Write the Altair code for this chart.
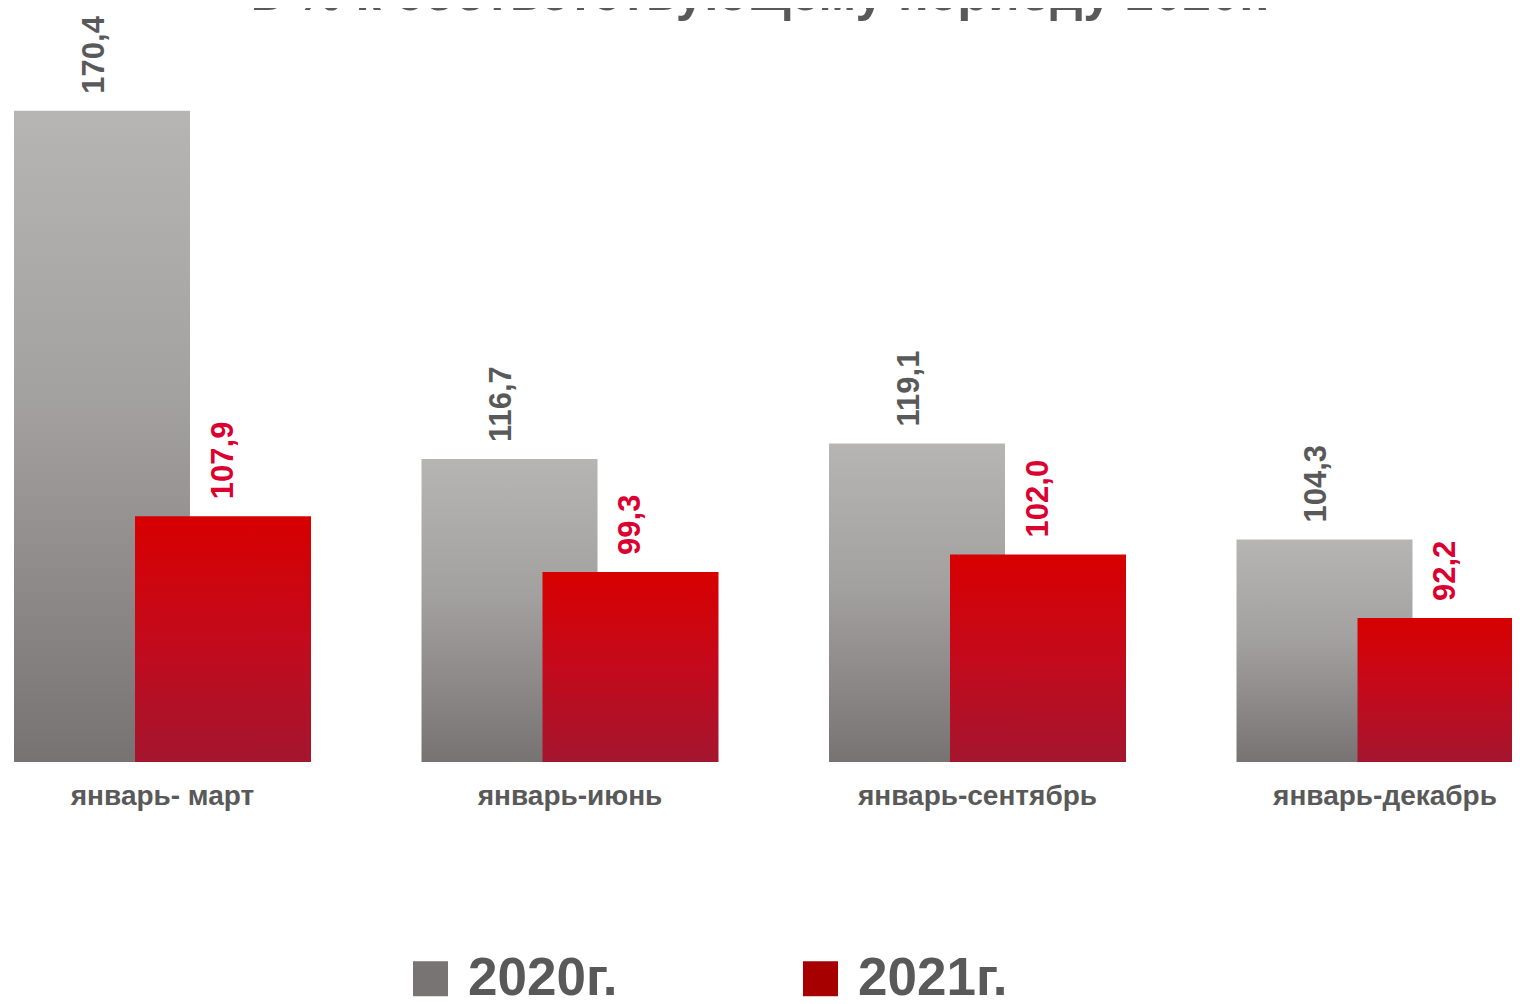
import altair as alt
import pandas as pd

categories = ["январь- март", "январь-июнь", "январь-сентябрь", "январь-декабрь"]
series = ["2020г.", "2021г."]
values_2020 = [170.4, 116.7, 119.1, 104.3]
values_2021 = [107.9, 99.3, 102.0, 92.2]

rows = []
for c, a, b in zip(categories, values_2020, values_2021):
    rows.append({"cat": c, "series": series[0], "value": a, "label": f"{a:.1f}".replace(".", ",")})
    rows.append({"cat": c, "series": series[1], "value": b, "label": f"{b:.1f}".replace(".", ",")})
df = pd.DataFrame(rows)

FONT = "Liberation Sans"
GRAY_TEXT = "#595959"
RED_TEXT = "#dc0030"

grad_gray = alt.LinearGradient(
    gradient="linear",
    stops=[alt.GradientStop(color="#b6b5b4", offset=0),
           alt.GradientStop(color="#a3a1a0", offset=0.45),
           alt.GradientStop(color="#777372", offset=1)],
    x1=0, x2=0, y1=0, y2=1,
)
grad_red = alt.LinearGradient(
    gradient="linear",
    stops=[alt.GradientStop(color="#d70000", offset=0),
           alt.GradientStop(color="#c40a1c", offset=0.5),
           alt.GradientStop(color="#a4162f", offset=1)],
    x1=0, x2=0, y1=0, y2=1,
)

xscale = alt.Scale(domain=categories, range=[-49.25, 1580.75], paddingInner=0, paddingOuter=0)
yscale = alt.Scale(domain=[70, 185], nice=False, zero=False)

base = alt.Chart(df)

x_enc = alt.X("cat:N", scale=xscale, sort=categories,
              axis=alt.Axis(title=None, labelAngle=0, domain=False, ticks=False, grid=False,
                            labelFont=FONT, labelFontSize=28, labelFontWeight="bold",
                            labelColor=GRAY_TEXT, labelPadding=20, labelLimit=400))
y_enc = alt.Y("value:Q", scale=yscale, axis=None)

bars_2020 = base.transform_filter(alt.datum.series == series[0]).mark_bar(
    width=176, xOffset=-60.5, color=grad_gray
).encode(x=x_enc, y=y_enc, y2=alt.datum(70))

bars_2021 = base.transform_filter(alt.datum.series == series[1]).mark_bar(
    width=176, xOffset=60.5, color=grad_red
).encode(x=x_enc, y=y_enc, y2=alt.datum(70))

text_2020 = base.transform_filter(alt.datum.series == series[0]).mark_text(
    angle=270, align="left", baseline="middle", dx=17, xOffset=-68,
    font=FONT, fontWeight="bold", fontSize=31, color=GRAY_TEXT
).encode(x=x_enc, y=y_enc, text="label:N")

text_2021 = base.transform_filter(alt.datum.series == series[1]).mark_text(
    angle=270, align="left", baseline="middle", dx=17, xOffset=61,
    font=FONT, fontWeight="bold", fontSize=31, color=RED_TEXT
).encode(x=x_enc, y=y_enc, text="label:N")

legend_layer = base.mark_square(opacity=0).encode(
    color=alt.Color("series:N",
                    scale=alt.Scale(domain=series, range=["#787473", "#a60000"]),
                    legend=alt.Legend(orient="none", legendX=396, legendY=936,
                                      direction="horizontal", title=None,
                                      symbolType="square", symbolSize=1225,
                                      symbolOpacity=1, symbolStrokeWidth=0,
                                      labelFont=FONT, labelFontSize=53, labelFontWeight="bold",
                                      labelColor=GRAY_TEXT, labelOffset=11,
                                      columnPadding=176, labelLimit=400, padding=0))
)

chart = alt.layer(bars_2020, bars_2021, text_2020, text_2021, legend_layer).properties(
    width=1504, height=746,
    title=alt.TitleParams("в % к соответствующему периоду 2020г.", font=FONT, fontSize=51,
                          fontWeight="bold", color=GRAY_TEXT, anchor="middle", offset=-5),
    autosize=alt.AutoSizeParams(type="none"),
    padding={"top": 8, "left": 0, "right": 0, "bottom": 242},
).configure_view(stroke=None)

chart.save("out.html", embed_options={"renderer": "svg", "actions": False})
